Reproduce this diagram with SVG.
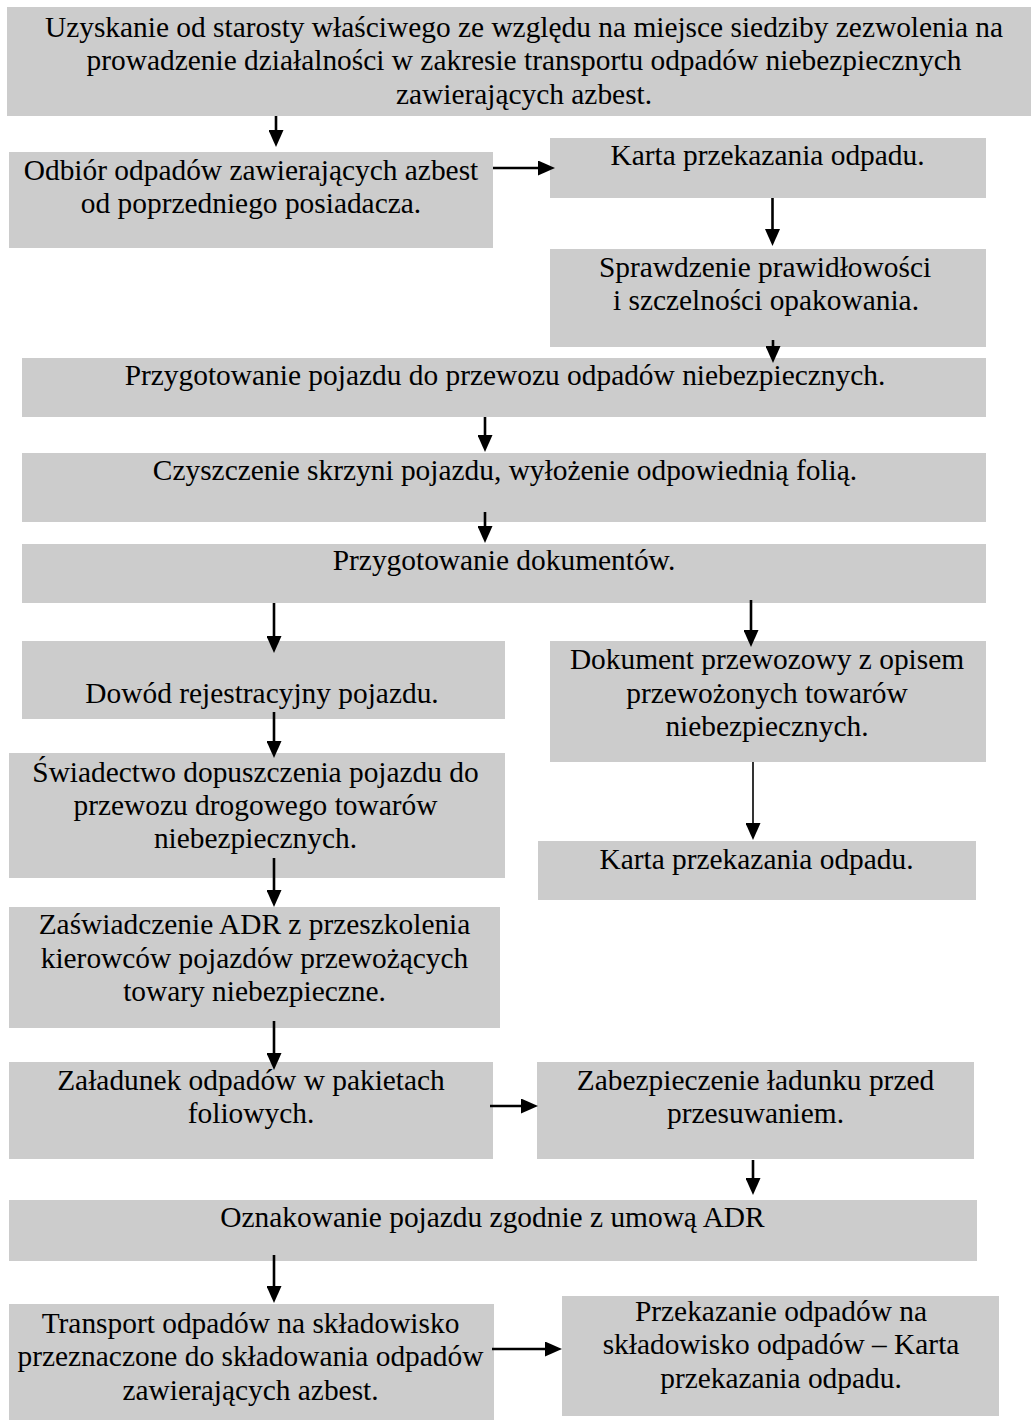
<svg xmlns="http://www.w3.org/2000/svg" width="1031" height="1420" viewBox="0 0 1031 1420">
<style>
.box{fill:#cccccc}
text{font-family:"Liberation Serif","Times New Roman",serif;font-size:29.4px;fill:#000;text-anchor:middle}
.arr{stroke:#000;stroke-width:2.6;fill:none;marker-end:url(#ah)}
.thin{stroke-width:1.6}
</style>
<defs>
<marker id="ah" markerUnits="userSpaceOnUse" markerWidth="17" markerHeight="15" refX="7" refY="7.5" orient="auto" viewBox="0 0 17 15">
<path d="M0,0 L17,7.5 L0,15 Z" fill="#000"/>
</marker>
</defs>
<rect width="1031" height="1420" fill="#fff"/>
<g id="n1"><rect class="box" x="7" y="7" width="1040" height="109"/>
<text x="524" y="37">Uzyskanie od starosty właściwego ze względu na miejsce siedziby zezwolenia na</text>
<text x="524" y="70.3">prowadzenie działalności w zakresie transportu odpadów niebezpiecznych</text>
<text x="524" y="103.6">zawierających azbest.</text></g>
<g id="n2"><rect class="box" x="9" y="152" width="484" height="96"/>
<text x="251" y="180">Odbiór odpadów zawierających azbest</text>
<text x="251" y="213.3">od poprzedniego posiadacza.</text></g>
<g id="n3"><rect class="box" x="550" y="138" width="436" height="60"/>
<text x="767.5" y="165">Karta przekazania odpadu.</text></g>
<g id="n4"><rect class="box" x="550" y="249" width="436" height="98"/>
<text x="765" y="277">Sprawdzenie prawidłowości</text>
<text x="766" y="310.3">i szczelności opakowania.</text></g>
<g id="n5"><rect class="box" x="22" y="358" width="964" height="59"/>
<text x="505" y="385">Przygotowanie pojazdu do przewozu odpadów niebezpiecznych.</text></g>
<g id="n6"><rect class="box" x="22" y="453" width="964" height="69"/>
<text x="505" y="480">Czyszczenie skrzyni pojazdu, wyłożenie odpowiednią folią.</text></g>
<g id="n7"><rect class="box" x="22" y="544" width="964" height="59"/>
<text x="504" y="570">Przygotowanie dokumentów.</text></g>
<g id="n8"><rect class="box" x="22" y="641" width="483" height="78"/>
<text x="262" y="702.5">Dowód rejestracyjny pojazdu.</text></g>
<g id="n9"><rect class="box" x="550" y="641" width="436" height="121"/>
<text x="767" y="669.2">Dokument przewozowy z opisem</text>
<text x="767" y="702.5">przewożonych towarów</text>
<text x="767" y="735.8">niebezpiecznych.</text></g>
<g id="n10"><rect class="box" x="9" y="753" width="496" height="125"/>
<text x="255.5" y="781.5">Świadectwo dopuszczenia pojazdu do</text>
<text x="255.5" y="814.8">przewozu drogowego towarów</text>
<text x="255.5" y="848.1">niebezpiecznych.</text></g>
<g id="n11"><rect class="box" x="538" y="841" width="438" height="59"/>
<text x="756.5" y="869">Karta przekazania odpadu.</text></g>
<g id="n12"><rect class="box" x="9" y="907" width="491" height="121"/>
<text x="254.5" y="934.3">Zaświadczenie ADR z przeszkolenia</text>
<text x="254.5" y="967.6">kierowców pojazdów przewożących</text>
<text x="254.5" y="1000.9">towary niebezpieczne.</text></g>
<g id="n13"><rect class="box" x="9" y="1062" width="484" height="97"/>
<text x="251" y="1090">Załadunek odpadów w pakietach</text>
<text x="251" y="1123.3">foliowych.</text></g>
<g id="n14"><rect class="box" x="537" y="1062" width="437" height="97"/>
<text x="755.5" y="1090">Zabezpieczenie ładunku przed</text>
<text x="755.5" y="1123.3">przesuwaniem.</text></g>
<g id="n15"><rect class="box" x="9" y="1200" width="968" height="61"/>
<text x="492.5" y="1226.7">Oznakowanie pojazdu zgodnie z umową ADR</text></g>
<g id="n16"><rect class="box" x="9" y="1304" width="485" height="116"/>
<text x="250.5" y="1333">Transport odpadów na składowisko</text>
<text x="250.5" y="1366.3">przeznaczone do składowania odpadów</text>
<text x="250.5" y="1399.6">zawierających azbest.</text></g>
<g id="n17"><rect class="box" x="562" y="1296" width="437" height="120"/>
<text x="781" y="1321">Przekazanie odpadów na</text>
<text x="781" y="1354.3">składowisko odpadów – Karta</text>
<text x="781" y="1387.6">przekazania odpadu.</text></g>
<g id="connectors">
<line class="arr" x1="276" y1="116" x2="276" y2="137"/>
<line class="arr" x1="493" y1="168" x2="545" y2="168"/>
<line class="arr" x1="772.5" y1="198" x2="772.5" y2="236"/>
<line class="arr" x1="773" y1="340" x2="773" y2="353"/>
<line class="arr" x1="485" y1="417" x2="485" y2="442"/>
<line class="arr" x1="485" y1="512" x2="485" y2="533"/>
<line class="arr" x1="274" y1="603" x2="274" y2="643"/>
<line class="arr" x1="751" y1="600" x2="751" y2="637"/>
<line class="arr" x1="274" y1="712" x2="274" y2="748"/>
<line class="arr thin" x1="753" y1="762" x2="753" y2="830"/>
<line class="arr" x1="274" y1="858" x2="274" y2="897"/>
<line class="arr" x1="274" y1="1021" x2="274" y2="1060"/>
<line class="arr" x1="490" y1="1106" x2="528" y2="1106"/>
<line class="arr" x1="753" y1="1160" x2="753" y2="1185"/>
<line class="arr" x1="274" y1="1255" x2="274" y2="1293"/>
<line class="arr" x1="492" y1="1349" x2="552" y2="1349"/>
</g>
</svg>
